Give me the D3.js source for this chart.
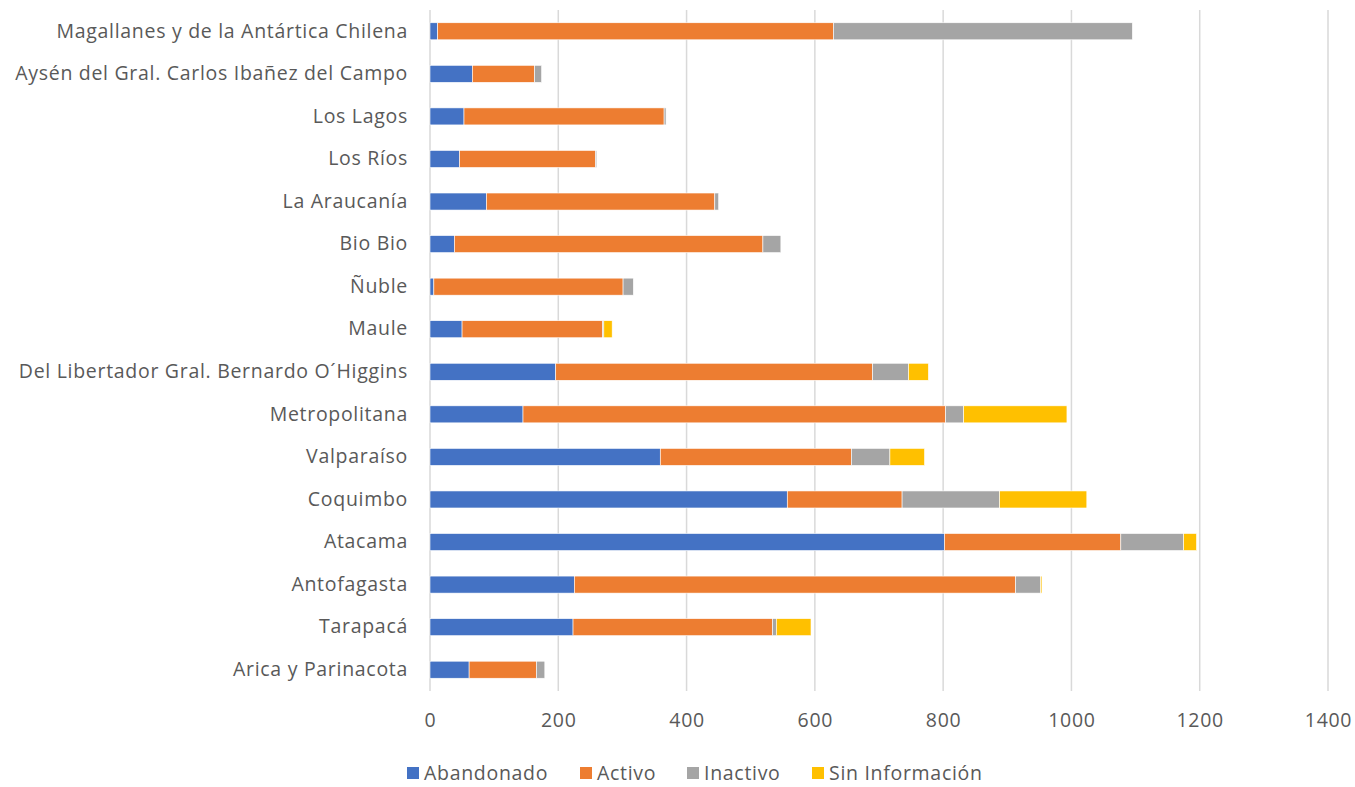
<!DOCTYPE html>
<html>
<head>
<meta charset="utf-8">
<script src="https://cdn.jsdelivr.net/npm/d3@7"></script>
<style>
  body { margin: 0; background: #fff; }
  svg text { font-family: "Open Sans", "Noto Sans", sans-serif; fill: #595959; letter-spacing: 0.7px; }
</style>
</head>
<body>
<svg width="1355" height="787"></svg>
<script>
// Regions, bottom to top as in the chart
const regions = [
  'Arica y Parinacota', 'Tarapacá', 'Antofagasta', 'Atacama', 'Coquimbo',
  'Valparaíso', 'Metropolitana', 'Del Libertador Gral. Bernardo O´Higgins',
  'Maule', 'Ñuble', 'Bio Bio', 'La Araucanía', 'Los Ríos', 'Los Lagos',
  'Aysén del Gral. Carlos Ibañez del Campo', 'Magallanes y de la Antártica Chilena'
];
const abandonado = [61, 223, 225, 802, 557, 359, 145, 196, 50, 6, 38, 88, 46, 53, 66, 12];
const activo = [105, 311, 688, 275, 179, 298, 659, 494, 219, 295, 481, 356, 212, 312, 97, 617];
const inactivo = [13, 6, 39, 98, 152, 60, 28, 56, 2, 16, 28, 6, 2, 3, 11, 466];
const sinInfo = [0, 54, 2, 20, 136, 54, 161, 31, 13, 0, 0, 0, 0, 0, 0, 0];
const seriesNames = ['Abandonado', 'Activo', 'Inactivo', 'Sin Información'];
const colors = ['#4472c4', '#ed7d31', '#a5a5a5', '#ffc000'];
const xTicks = [0, 200, 400, 600, 800, 1000, 1200, 1400];

const rows = regions.map((r, i) => ({
  region: r,
  'Abandonado': abandonado[i],
  'Activo': activo[i],
  'Inactivo': inactivo[i],
  'Sin Información': sinInfo[i]
}));

const svg = d3.select('svg');
const margin = { top: 10, right: 27, bottom: 96, left: 430 };
const width = +svg.attr('width') - margin.left - margin.right;
const height = +svg.attr('height') - margin.top - margin.bottom;

const x = d3.scaleLinear().domain([0, 1400]).range([0, width]);
const y = d3.scaleBand()
  .domain(regions.slice().reverse())
  .range([0, height])
  .paddingInner(0.6)
  .paddingOuter(0.3);

const g = svg.append('g').attr('transform', `translate(${margin.left},${margin.top})`);

// gridlines
g.append('g')
  .selectAll('line')
  .data(xTicks)
  .join('line')
  .attr('x1', d => x(d))
  .attr('x2', d => x(d))
  .attr('y1', 0)
  .attr('y2', height)
  .attr('stroke', '#d9d9d9')
  .attr('stroke-width', 1.5);

// stacked bars
const stacked = d3.stack().keys(seriesNames)(rows);
g.selectAll('g.series')
  .data(stacked)
  .join('g')
  .attr('class', 'series')
  .attr('fill', (d, i) => colors[i])
  .selectAll('rect')
  .data(d => d)
  .join('rect')
  .attr('x', d => x(d[0]))
  .attr('y', d => y(d.data.region))
  .attr('width', d => x(d[1]) - x(d[0]))
  .attr('height', y.bandwidth())
  .attr('stroke', '#fff')
  .attr('stroke-width', 0.6);

// category labels
const yAxis = g.append('g').call(d3.axisLeft(y).tickSize(0).tickPadding(22));
yAxis.select('.domain').remove();
yAxis.selectAll('text').style('font-size', '19.5px').style('fill', '#595959');

// x labels
const xAxis = g.append('g')
  .attr('transform', `translate(0,${height})`)
  .call(d3.axisBottom(x).tickValues(xTicks).tickSize(0).tickPadding(22).tickFormat(d3.format('d')));
xAxis.select('.domain').remove();
xAxis.selectAll('text').style('font-size', '19.5px').style('fill', '#595959');

// legend
const legendX = [407, 580, 687, 812];
const legend = svg.append('g').attr('transform', 'translate(0,773)');
const items = legend.selectAll('g')
  .data(seriesNames)
  .join('g')
  .attr('transform', (d, i) => `translate(${legendX[i]},0)`);
items.append('rect')
  .attr('x', 0)
  .attr('y', -6)
  .attr('width', 12)
  .attr('height', 12)
  .attr('fill', (d, i) => colors[i]);
items.append('text')
  .attr('x', 17)
  .attr('dy', '0.35em')
  .style('font-size', '19.5px')
  .text(d => d);
</script>
</body>
</html>
